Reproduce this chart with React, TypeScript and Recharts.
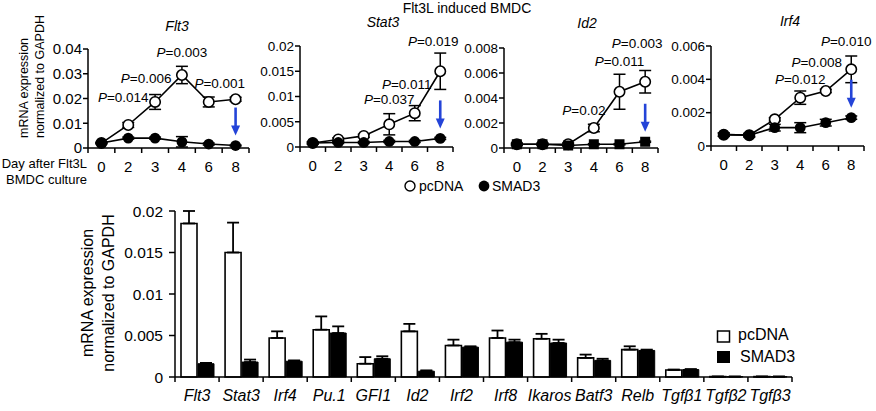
import React from "react";
import { LineChart, Line, XAxis, YAxis, ErrorBar, BarChart, Bar } from "recharts";

// time course, days after Flt3L BMDC culture
const days = ["0", "2", "3", "4", "6", "8"];

const flt3Pc = [0.002, 0.0093, 0.0186, 0.0295, 0.0186, 0.0197];
const flt3PcErr = [0.0003, 0.001, 0.003, 0.0035, 0.002, 0.0008];
const flt3Sm = [0.002, 0.004, 0.004, 0.0025, 0.0016, 0.001];
const flt3SmErr = [0.0002, 0.0004, 0.0004, 0.0021, 0.0004, 0.0002];
const flt3P = [null, "0.014", "0.006", "0.003", "0.001", null];
const flt3Ticks = [0, 0.01, 0.02, 0.03, 0.04];

const stat3Pc = [0.0008, 0.0015, 0.0022, 0.0045, 0.0067, 0.015];
const stat3PcErr = [0.0002, 0.0003, 0.0003, 0.0021, 0.0015, 0.0036];
const stat3Sm = [0.0008, 0.0009, 0.0009, 0.0011, 0.0011, 0.0017];
const stat3SmErr = [0.0002, 0.0002, 0.0002, 0.0002, 0.0002, 0.0002];
const stat3P = [null, null, null, "0.037", "0.011", "0.019"];
const stat3Ticks = [0, 0.005, 0.01, 0.015, 0.02];

const id2Pc = [0.0003, 0.0003, 0.0003, 0.0016, 0.0045, 0.0053];
const id2PcErr = [0.0001, 0.0001, 0.0001, 0.0003, 0.0014, 0.0009];
const id2Sm = [0.0003, 0.0003, 0.0002, 0.0003, 0.0003, 0.0005];
const id2SmErr = [0.00005, 0.00005, 0.00005, 0.00005, 0.00005, 0.00005];
const id2P = [null, null, null, "0.02", "0.011", "0.003"];
const id2Ticks = [0, 0.002, 0.004, 0.006, 0.008];

const irf4Pc = [0.00068, 0.00065, 0.0016, 0.0029, 0.0033, 0.0046];
const irf4PcErr = [0.0001, 0.0001, 0.0001, 0.0004, 0.0001, 0.0008];
const irf4Sm = [0.00068, 0.00065, 0.0011, 0.0011, 0.0014, 0.0017];
const irf4SmErr = [0.0001, 0.0001, 0.0002, 0.0003, 0.0002, 0.0001];
const irf4P = [null, null, null, "0.012", "0.008", "0.010"];
const irf4Ticks = [0, 0.002, 0.004, 0.006];

// day 8 panel
const genes = ["Flt3", "Stat3", "Irf4", "Pu.1", "GFI1", "Id2", "Irf2", "Irf8", "Ikaros", "Batf3", "Relb", "Tgfβ1", "Tgfβ2", "Tgfβ3"];
const barPc = [0.0185, 0.015, 0.0047, 0.0057, 0.0016, 0.0055, 0.0038, 0.0047, 0.0046, 0.0023, 0.0033, 0.00085, 0.00005, 0.00005];
const barPcErr = [0.0015, 0.0036, 0.0008, 0.0016, 0.0008, 0.0009, 0.0007, 0.0009, 0.0006, 0.0004, 0.0004, 0.00005, 0, 0];
const barSm = [0.0016, 0.0018, 0.0019, 0.0053, 0.0022, 0.0007, 0.0036, 0.0042, 0.0041, 0.002, 0.0032, 0.0009, 0.00005, 0.00005];
const barSmErr = [0.0001, 0.0003, 0.0001, 0.0008, 0.0003, 0.0001, 0.0001, 0.0003, 0.0004, 0.0002, 0.0001, 0.00005, 0, 0];
const barTicks = [0, 0.005, 0.01, 0.015, 0.02];

const W = 876;
const H = 411;
const FONT = "'Liberation Sans', Arial, Helvetica, sans-serif";
const ARROW = "#2444d8";

const fmt = (v: number) => (v === 0 ? "0" : String(v));

type Panel = {
  title: string;
  pc: number[]; pcErr: number[]; sm: number[]; smErr: number[];
  pvals: (string | null)[];
  ticks: number[];
  square: boolean;
  box: { left: number; right: number; top: number; bottom: number };
  tickFont: number;
  titleX: number; titleY: number;
  pOff: [number, number][];
};

const panels: Panel[] = [
  {
    title: "Flt3", pc: flt3Pc, pcErr: flt3PcErr, sm: flt3Sm, smErr: flt3SmErr, pvals: flt3P, ticks: flt3Ticks,
    square: false, box: { left: 88, right: 249, top: 49, bottom: 148 }, tickFont: 15, titleX: 177, titleY: 31,
    pOff: [[0, 0], [-5, -23], [-9, -19], [0, -18], [11, -14], [0, 0]],
  },
  {
    title: "Stat3", pc: stat3Pc, pcErr: stat3PcErr, sm: stat3Sm, smErr: stat3SmErr, pvals: stat3P, ticks: stat3Ticks,
    square: false, box: { left: 300, right: 453, top: 46, bottom: 147 }, tickFont: 13.5, titleX: 383, titleY: 27,
    pOff: [[0, 0], [0, 0], [0, 0], [0, -20], [-8, -24], [-7, -25]],
  },
  {
    title: "Id2", pc: id2Pc, pcErr: id2PcErr, sm: id2Sm, smErr: id2SmErr, pvals: id2P, ticks: id2Ticks,
    square: true, box: { left: 504, right: 658, top: 48, bottom: 148 }, tickFont: 13.5, titleX: 587, titleY: 28,
    pOff: [[0, 0], [0, 0], [0, 0], [-10, -13], [0, -26], [-8, -34]],
  },
  {
    title: "Irf4", pc: irf4Pc, pcErr: irf4PcErr, sm: irf4Sm, smErr: irf4SmErr, pvals: irf4P, ticks: irf4Ticks,
    square: false, box: { left: 711, right: 864, top: 46, bottom: 146 }, tickFont: 13.5, titleX: 790, titleY: 26,
    pOff: [[0, 0], [0, 0], [0, 0], [0, -14], [-9, -24], [-5, -23]],
  },
];

function TimePanel({ p }: { p: Panel }) {
  const data = days.map((d, i) => ({
    pos: i, day: d, pc: p.pc[i], pcErr: p.pcErr[i], sm: p.sm[i], smErr: p.smErr[i],
  }));
  const band = (p.box.right - p.box.left) / days.length;
  const yW = 40;
  const xH = 30;

  const dayTick = (props: any) => {
    const { x, y, payload, index } = props;
    return (
      <g key={`t-${index}`}>
        {index === 0 && <line x1={x - band / 2} y1={y} x2={x - band / 2} y2={y + 5} stroke="#000" strokeWidth={1.5} />}
        <line x1={x + band / 2} y1={y} x2={x + band / 2} y2={y + 5} stroke="#000" strokeWidth={1.5} />
        <text x={x} y={y + 24} textAnchor="middle" fontSize={15} fill="#000">{days[payload.value]}</text>
      </g>
    );
  };

  const pcDot = (props: any) => {
    const { cx, cy, index } = props;
    const pv = p.pvals[index];
    const off = p.pOff[index];
    return (
      <g key={`pc-${index}`}>
        <circle cx={cx} cy={cy} r={5.2} fill="#fff" stroke="#000" strokeWidth={1.6} />
        {pv && (
          <text x={cx + off[0]} y={cy + off[1]} textAnchor="middle" fontSize={13.5} fill="#000">
            <tspan fontStyle="italic">P</tspan>={pv}
          </text>
        )}
      </g>
    );
  };

  const smDot = (props: any) => {
    const { cx, cy, index } = props;
    return (
      <g key={`sm-${index}`}>
        {p.square
          ? <rect x={cx - 5} y={cy - 5} width={10} height={10} fill="#000" />
          : <circle cx={cx} cy={cy} r={5.4} fill="#000" />}
        {index === days.length - 1 && (
          <g>
            <line x1={cx} y1={cy - 38} x2={cx} y2={cy - 19} stroke={ARROW} strokeWidth={2.6} />
            <polygon points={`${cx - 4.5},${cy - 20} ${cx + 4.5},${cy - 20} ${cx},${cy - 10}`} fill={ARROW} />
          </g>
        )}
      </g>
    );
  };

  return (
    <div style={{ position: "absolute", left: 0, top: 0 }}>
      <LineChart
        width={W}
        height={H}
        data={data}
        margin={{ top: p.box.top, bottom: H - p.box.bottom - xH, left: p.box.left - yW, right: W - p.box.right }}
      >
        <XAxis
          type="number"
          dataKey="pos"
          domain={[-0.5, days.length - 0.5]}
          ticks={days.map((_, i) => i)}
          interval={0}
          height={xH}
          tickSize={0}
          tickMargin={0}
          tickLine={false}
          axisLine={{ stroke: "#000", strokeWidth: 1.5 }}
          tick={dayTick}
        />
        <YAxis
          type="number"
          domain={[0, p.ticks[p.ticks.length - 1]]}
          ticks={p.ticks}
          interval={0}
          width={yW}
          tickSize={5}
          tickMargin={1}
          tickFormatter={fmt}
          axisLine={{ stroke: "#000", strokeWidth: 1.5 }}
          tickLine={{ stroke: "#000", strokeWidth: 1.5 }}
          tick={{ fontSize: p.tickFont, fill: "#000" }}
        />
        <Line dataKey="pc" stroke="none" dot={false} activeDot={false} isAnimationActive={false}>
          <ErrorBar dataKey="pcErr" width={6} stroke="#000" strokeWidth={1.5} direction="y" />
        </Line>
        <Line dataKey="sm" stroke="none" dot={false} activeDot={false} isAnimationActive={false}>
          <ErrorBar dataKey="smErr" width={6} stroke="#000" strokeWidth={1.5} direction="y" />
        </Line>
        <Line dataKey="pc" type="linear" stroke="#000" strokeWidth={1.6} dot={pcDot} activeDot={false} isAnimationActive={false} />
        <Line dataKey="sm" type="linear" stroke="#000" strokeWidth={1.6} dot={smDot} activeDot={false} isAnimationActive={false} />
      </LineChart>
    </div>
  );
}

function GenePanel() {
  const data = genes.map((g, i) => ({
    gene: g, pc: barPc[i], pcErr: [0, barPcErr[i]], sm: barSm[i], smErr: [0, barSmErr[i]],
  }));
  const box = { left: 175, right: 792, top: 211, bottom: 377 };
  const band = (box.right - box.left) / genes.length;
  const yW = 60;
  const xH = 30;

  const geneTick = (props: any) => {
    const { x, y, payload, index } = props;
    return (
      <g key={`g-${index}`}>
        {index === 0 && <line x1={x - band / 2} y1={y} x2={x - band / 2} y2={y + 5} stroke="#000" strokeWidth={1.5} />}
        <line x1={x + band / 2} y1={y} x2={x + band / 2} y2={y + 5} stroke="#000" strokeWidth={1.5} />
        <text x={x} y={y + 24} textAnchor="middle" fontSize={16} fontStyle="italic" fill="#000">{payload.value}</text>
      </g>
    );
  };

  return (
    <div style={{ position: "absolute", left: 0, top: 0 }}>
      <BarChart
        width={W}
        height={H}
        data={data}
        barCategoryGap={6}
        barGap={1}
        margin={{ top: box.top, bottom: H - box.bottom - xH, left: box.left - yW, right: W - box.right }}
      >
        <XAxis
          dataKey="gene"
          interval={0}
          height={xH}
          tickSize={0}
          tickMargin={0}
          tickLine={false}
          axisLine={{ stroke: "#000", strokeWidth: 1.5 }}
          tick={geneTick}
        />
        <YAxis
          type="number"
          domain={[0, 0.02]}
          ticks={barTicks}
          interval={0}
          width={yW}
          tickSize={6}
          tickMargin={6}
          tickFormatter={fmt}
          axisLine={{ stroke: "#000", strokeWidth: 1.5 }}
          tickLine={{ stroke: "#000", strokeWidth: 1.5 }}
          tick={{ fontSize: 15.5, fill: "#000" }}
        />
        <Bar dataKey="pc" fill="#fff" stroke="#000" strokeWidth={1.6} isAnimationActive={false}>
          <ErrorBar dataKey="pcErr" width={6} stroke="#000" strokeWidth={1.8} direction="y" />
        </Bar>
        <Bar dataKey="sm" fill="#000" stroke="#000" strokeWidth={1} isAnimationActive={false}>
          <ErrorBar dataKey="smErr" width={6} stroke="#000" strokeWidth={1.8} direction="y" />
        </Bar>
      </BarChart>
    </div>
  );
}

export default function App() {
  return (
    <div style={{ position: "relative", width: W, height: H, background: "#fff", fontFamily: FONT, overflow: "hidden" }}>
      <style>{"body{margin:0;background:#fff}"}</style>
      {panels.map((p) => <TimePanel key={p.title} p={p} />)}
      <GenePanel />
      <svg width={W} height={H} style={{ position: "absolute", left: 0, top: 0, pointerEvents: "none" }} fontFamily={FONT}>
        <text x={467} y={13} textAnchor="middle" fontSize={14} fill="#000">Flt3L induced BMDC</text>
        {panels.map((p) => (
          <text key={p.title} x={p.titleX} y={p.titleY} textAnchor="middle" fontSize={14} fontStyle="italic" fill="#000">{p.title}</text>
        ))}
        <g fontSize={12.5} fill="#000">
          <text transform="translate(28,138) rotate(-90)" textAnchor="start">mRNA expression</text>
          <text transform="translate(44,138) rotate(-90)" textAnchor="start">normalized to GAPDH</text>
        </g>
        <g fontSize={13} fill="#000" textAnchor="end">
          <text x={87} y={168}>Day after Flt3L</text>
          <text x={87} y={184}>BMDC culture</text>
        </g>
        <circle cx={410} cy={186} r={5} fill="#fff" stroke="#000" strokeWidth={1.4} />
        <text x={419} y={191} fontSize={14} fill="#000">pcDNA</text>
        <circle cx={484} cy={186} r={5.4} fill="#000" />
        <text x={492} y={191} fontSize={14} fill="#000">SMAD3</text>
        <g fontSize={16} fill="#000" textAnchor="middle">
          <text transform="translate(93,293) rotate(-90)">mRNA expression</text>
          <text transform="translate(114,293) rotate(-90)">normalized to GAPDH</text>
        </g>
        <rect x={717.5} y={331} width={12} height={11} fill="#fff" stroke="#000" strokeWidth={1.5} />
        <rect x={717} y={351} width={13} height={12} fill="#000" />
        <text x={738} y={340} fontSize={16} fill="#000">pcDNA</text>
        <text x={740} y={362} fontSize={16} fill="#000">SMAD3</text>
      </svg>
    </div>
  );
}
